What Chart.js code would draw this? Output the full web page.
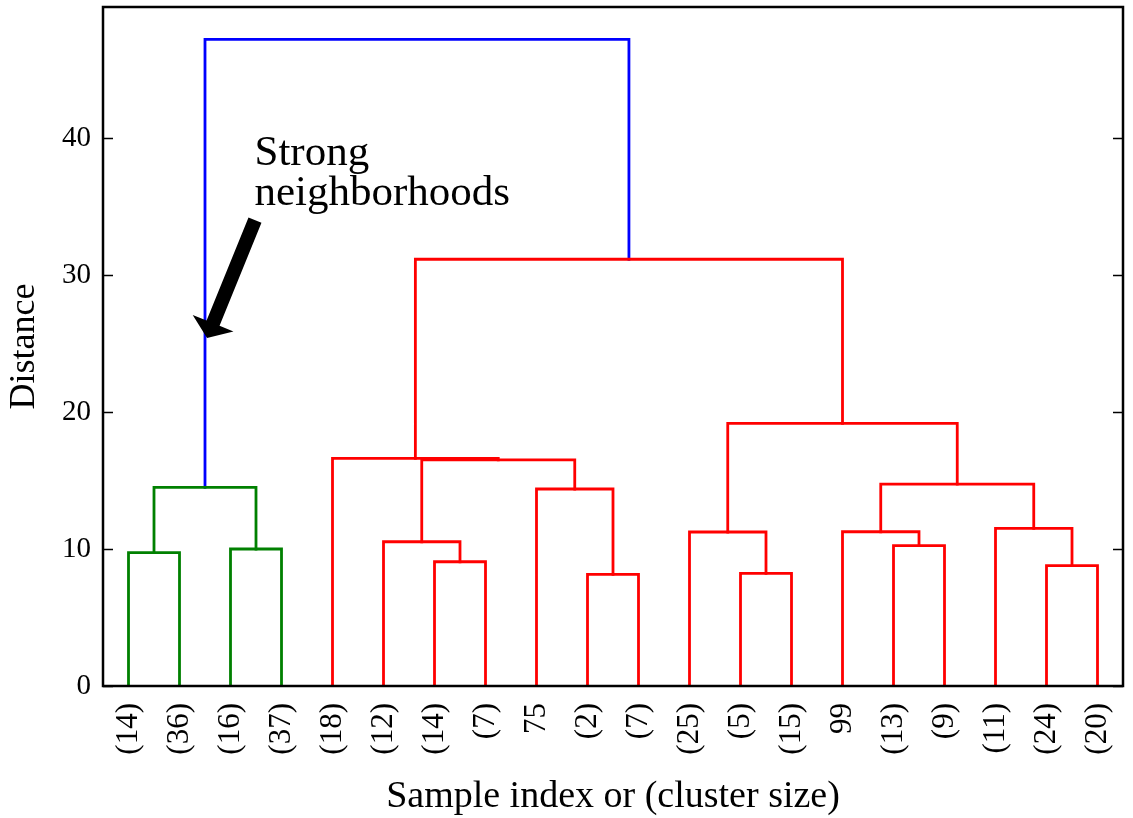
<!DOCTYPE html>
<html>
<head>
<meta charset="utf-8">
<title>Dendrogram</title>
<script src="https://cdn.jsdelivr.net/npm/chart.js@4"></script>
<style>
    html, body { margin: 0; padding: 0; background: #fff; }
    #graph { display: block; }
</style>
</head>
<body>
<canvas id="graph" width="1133" height="818"></canvas>
<script>
/* Leaves, left to right: sample index or (cluster size) */
var leafLabels = ["(14)", "(36)", "(16)", "(37)", "(18)", "(12)", "(14)", "(7)", "75", "(2)",
                  "(7)", "(25)", "(5)", "(15)", "99", "(13)", "(9)", "(11)", "(24)", "(20)"];

/* Linkage: merge k joins mergeLeft[k] and mergeRight[k] into cluster 20 + k */
var mergeLeft   = [9, 12, 18, 6, 0, 2, 15, 5, 11, 14, 17, 8, 24, 29, 27, 4, 28, 35, 32];
var mergeRight  = [10, 13, 19, 7, 1, 3, 16, 23, 21, 26, 22, 20, 25, 30, 31, 34, 33, 36, 37];
var mergeHeight = [8.15, 8.22, 8.78, 9.07, 9.73, 10.0, 10.24, 10.53, 11.24, 11.26,
                   11.51, 14.38, 14.5, 14.74, 16.5, 16.62, 19.17, 31.15, 47.2];

var yTicks = [0, 10, 20, 30, 40];

var noteLines = ["Strong", "neighborhoods"];

/* ---------------------------------------------------------------------- */

var nLeaves = leafLabels.length;
var xPos = [], yPos = [];
for (var i = 0; i < nLeaves; i++) {
    xPos[i] = 5 + 10 * i;
    yPos[i] = 0;
}
for (var k = 0; k < mergeHeight.length; k++) {
    xPos[nLeaves + k] = (xPos[mergeLeft[k]] + xPos[mergeRight[k]]) / 2;
    yPos[nLeaves + k] = mergeHeight[k];
}

var topHeight = Math.max.apply(null, mergeHeight);
var threshold = 0.7 * topHeight;
var palette = ["#008000", "#ff0000"];
var aboveColor = "#0000ff";
var linkColor = [];
var nextColor = 0;

// color each subtree below the threshold, links above stay blue
function paint(id, color) {
    if (id < nLeaves) return;
    var m = id - nLeaves;
    if (!color && mergeHeight[m] <= threshold) {
        color = palette[nextColor++ % palette.length];
    }
    linkColor[m] = color || aboveColor;
    paint(mergeLeft[m], color);
    paint(mergeRight[m], color);
}
paint(nLeaves + mergeHeight.length - 1, null);

var datasets = mergeHeight.map(function(h, m) {
    var a = mergeLeft[m], b = mergeRight[m];
    return {
        data: [
            {x: xPos[a], y: yPos[a]},
            {x: xPos[a], y: h},
            {x: xPos[b], y: h},
            {x: xPos[b], y: yPos[b]}
        ],
        showLine: true,
        borderColor: linkColor[m],
        borderWidth: 2.8,
        pointRadius: 0,
        fill: false,
        tension: 0,
        borderCapStyle: 'square',
        borderJoinStyle: 'miter'
    };
});

var serif = "'Liberation Serif', 'Times New Roman', serif";

/* Box around the plot with inward ticks on both sides */
var framePlugin = {
    id: 'frame',
    afterDraw: function(chart) {
        var c = chart.ctx, a = chart.chartArea, ys = chart.scales.y;
        c.save();
        c.strokeStyle = '#000';
        c.lineWidth = 1.5;
        c.beginPath();
        yTicks.forEach(function(v) {
            var py = Math.round(ys.getPixelForValue(v)) + 0.5;
            c.moveTo(a.left, py);
            c.lineTo(a.left + 10, py);
            c.moveTo(a.right, py);
            c.lineTo(a.right - 10, py);
        });
        c.stroke();
        c.lineWidth = 2.5;
        c.strokeRect(a.left, a.top, a.right - a.left, a.bottom - a.top);
        c.restore();
    }
};

/* Annotation text and the black arrow */
var notePlugin = {
    id: 'note',
    afterDatasetsDraw: function(chart) {
        var c = chart.ctx, xs = chart.scales.x, ys = chart.scales.y;
        var tx = xs.getPixelForValue(20.4), ty = ys.getPixelForValue(25.4);
        var sx = xs.getPixelForValue(29.8), sy = ys.getPixelForValue(34.0);
        var len = Math.hypot(tx - sx, ty - sy);
        var ux = (tx - sx) / len, uy = (ty - sy) / len;
        var nx = -uy, ny = ux;
        var w = 7, hw = 22, hl = 16;
        var bx = tx - ux * hl, by = ty - uy * hl;

        c.save();
        c.fillStyle = '#000';
        c.beginPath();
        c.moveTo(sx + nx * w, sy + ny * w);
        c.lineTo(bx + nx * w, by + ny * w);
        c.lineTo(bx + nx * hw, by + ny * hw);
        c.lineTo(tx, ty);
        c.lineTo(bx - nx * hw, by - ny * hw);
        c.lineTo(bx - nx * w, by - ny * w);
        c.lineTo(sx - nx * w, sy - ny * w);
        c.closePath();
        c.fill();

        c.font = "43px " + serif;
        c.textAlign = 'left';
        c.textBaseline = 'alphabetic';
        var px = xs.getPixelForValue(29.7), py = ys.getPixelForValue(38.0);
        noteLines.forEach(function(t, j) {
            c.fillText(t, px, py + j * 40);
        });
        c.restore();
    }
};

var graph = document.getElementById("graph").getContext("2d");

var myChart = new Chart(graph, {
    type: 'scatter',
    data: { datasets: datasets },
    options: {
        responsive: false,
        animation: false,
        layout: {
            padding: { left: 0, right: 10, top: 7, bottom: 0 }
        },
        plugins: {
            legend: { display: false },
            tooltip: { enabled: false }
        },
        scales: {
            x: {
                type: 'linear',
                min: 0,
                max: 10 * nLeaves,
                afterBuildTicks: function(scale) {
                    scale.ticks = leafLabels.map(function(l, j) { return { value: 5 + 10 * j }; });
                },
                afterFit: function(scale) {
                    scale.height = 132;
                    scale.paddingLeft = 0;
                    scale.paddingRight = 0;
                },
                ticks: {
                    autoSkip: false,
                    minRotation: 90,
                    maxRotation: 90,
                    padding: 17,
                    color: '#000',
                    font: { family: serif, size: 31 },
                    callback: function(v) { return leafLabels[Math.round((v - 5) / 10)]; }
                },
                grid: { display: false, drawTicks: false },
                border: { display: false },
                title: {
                    display: true,
                    text: 'Sample index or (cluster size)',
                    color: '#000',
                    font: { family: serif, size: 38 },
                    padding: { top: 0, bottom: -2 }
                }
            },
            y: {
                min: 0,
                max: topHeight * 1.05,
                afterBuildTicks: function(scale) {
                    scale.ticks = yTicks.map(function(v) { return { value: v }; });
                },
                afterFit: function(scale) {
                    scale.width = 103;
                    scale.paddingTop = 0;
                    scale.paddingBottom = 0;
                },
                ticks: {
                    padding: 12,
                    color: '#000',
                    font: { family: serif, size: 29 }
                },
                grid: { display: false, drawTicks: false },
                border: { display: false },
                title: {
                    display: true,
                    text: 'Distance',
                    color: '#000',
                    font: { family: serif, size: 36 },
                    padding: { top: 3, bottom: 3 }
                }
            }
        }
    },
    plugins: [framePlugin, notePlugin]
});
</script>
</body>
</html>
